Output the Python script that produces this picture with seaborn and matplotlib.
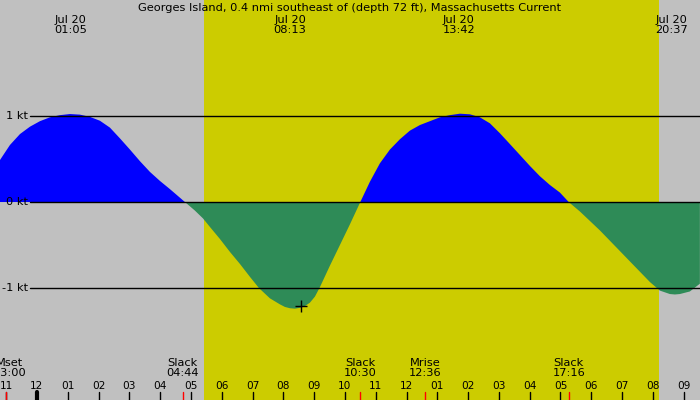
import numpy as np
import pandas as pd
import matplotlib
matplotlib.use("Agg")
import matplotlib.pyplot as plt
import seaborn as sns

# Current speed (hours after midnight Jul 20, knots; + flood, - ebb)
hours = [-1.201, -0.877, -0.552, -0.227, 0.097, 0.422, 0.747, 1.071, 1.396, 1.721,
         2.045, 2.370, 2.695, 3.019, 3.344, 3.669, 3.994, 4.318, 4.643, 4.805,
         4.968, 5.130, 5.390, 5.617, 5.942, 6.266, 6.591, 6.916, 7.208, 7.565,
         7.890, 8.052, 8.214, 8.377, 8.539, 8.701, 8.864, 9.026, 9.188, 9.513,
         9.838, 10.162, 10.500,
         10.812, 11.136, 11.461, 11.786, 12.110, 12.435, 12.760, 13.084, 13.409,
         13.734, 14.058, 14.383, 14.708, 15.032, 15.357, 15.682, 16.006, 16.331,
         16.656, 16.981, 17.267,
         17.630, 17.955, 18.279, 18.604, 18.929, 19.253, 19.578, 19.903, 20.130,
         20.227, 20.552, 20.714, 20.877, 21.201, 21.526]
speed = [0.488, 0.663, 0.790, 0.876, 0.940, 0.985, 1.010, 1.023, 1.016, 0.990,
         0.945, 0.865, 0.740, 0.610, 0.475, 0.350, 0.245, 0.150, 0.050, 0.0,
         -0.05, -0.10, -0.19, -0.29, -0.43, -0.58, -0.72, -0.87, -1.00, -1.12,
         -1.19, -1.22, -1.235, -1.24, -1.23, -1.21, -1.17, -1.10, -0.99,
         -0.74, -0.50, -0.26, 0.0,
         0.236, 0.450, 0.610, 0.730, 0.830, 0.895, 0.940, 0.985, 1.010,
         1.027, 1.020, 0.985, 0.915, 0.800, 0.674, 0.547, 0.420, 0.300,
         0.198, 0.110, 0.0,
         -0.11, -0.22, -0.33, -0.45, -0.57, -0.69, -0.81, -0.93, -1.00,
         -1.03, -1.07, -1.075, -1.07, -1.04, -0.95]

# Max current labels (top) and events (bottom)
max_times = [1.08, 8.22, 13.70, 20.62]
max_labels = ["Jul 20\n01:05", "Jul 20\n08:13", "Jul 20\n13:42", "Jul 20\n20:37"]
event_times = [-1.0, 4.73, 10.50, 12.60, 17.27]
event_labels = ["Mset\n23:00", "Slack\n04:44", "Slack\n10:30", "Mrise\n12:36", "Slack\n17:16"]

hour_ticks = list(range(-1, 22))
hour_labels = ["%02d" % (h % 12 if h % 12 else 12) for h in hour_ticks]

kt_levels = [1, 0, -1]
kt_labels = ["1 kt", "0 kt", "-1 kt"]

sunrise, sunset = 5.42, 20.19
marker_t, marker_v = [8.57], [-1.21]

title = "Georges Island, 0.4 nmi southeast of (depth 72 ft), Massachusetts Current"

sns.set_theme(style="white")
plt.rcParams['font.family'] = ['DejaVu Sans']

GRAY = "#c0c0c0"
YELLOW = "#cccc00"
BLUE = "#0000ff"
GREEN = "#2e8b57"
FS = 8.2
FS_HOUR = 7.6

fig = plt.figure(figsize=(7, 4), dpi=100, facecolor=GRAY)
ax = fig.add_axes([0, 0, 1, 1])
ax.set_facecolor(GRAY)
ax.set_xlim(-1.2, 21.53)
ax.set_ylim(-2.302, 2.349)

ax.axvspan(sunrise, sunset, color=YELLOW, lw=0, zorder=0)

df = pd.DataFrame({"hours": hours, "speed": speed})
t = df["hours"].to_numpy()
v = df["speed"].to_numpy()
ax.fill_between(t, v, 0, where=v >= 0, interpolate=True, color=BLUE, lw=0, zorder=1)
ax.fill_between(t, v, 0, where=v <= 0, interpolate=True, color=GREEN, lw=0, zorder=1)

for lvl, lab in zip(kt_levels, kt_labels):
    ax.axhline(lvl, xmin=30 / 700, xmax=1, color="black", lw=1, zorder=2)
    ax.text(28 / 700, lvl, lab, transform=ax.get_yaxis_transform(),
            ha="right", va="center", fontsize=FS, color="black")

sns.scatterplot(x=marker_t, y=marker_v, marker="+", s=70, color="black",
                linewidth=1, ax=ax, zorder=3)

ax.text(0.5, 0.981, title, transform=ax.transAxes, ha="center", va="center",
        fontsize=FS, color="black")
for mt, ml in zip(max_times, max_labels):
    ax.text(mt, 0.937, ml, transform=ax.get_xaxis_transform(), ha="center",
            va="center", fontsize=FS, linespacing=1.05, color="black")

for h, lab in zip(hour_ticks, hour_labels):
    ax.text(h, 0.035, lab, transform=ax.get_xaxis_transform(), ha="center",
            va="center", fontsize=FS_HOUR, color="black")
    ax.axvline(h, ymin=0, ymax=8 / 400, color="black", lw=3 if h == 0 else 1)

for et, el in zip(event_times, event_labels):
    # labels at the left edge are nudged inwards a little, as in the original
    ax.text(max(et, -0.9), 0.080, el, transform=ax.get_xaxis_transform(), ha="center",
            va="center", fontsize=FS, linespacing=1.05, color="black")
    ax.axvline(et, ymin=0, ymax=8 / 400, color="red", lw=1, zorder=3)

ax.set_axis_off()
fig.savefig("out.png", dpi=100, facecolor=GRAY)
